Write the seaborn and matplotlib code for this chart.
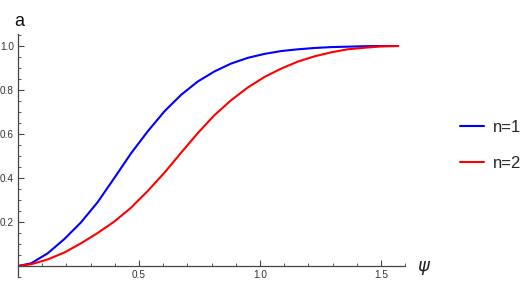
import numpy as np
import pandas as pd
import matplotlib
matplotlib.use("Agg")
import matplotlib.pyplot as plt
import seaborn as sns
from matplotlib.ticker import MultipleLocator, FixedLocator

# values
psi_n1 = [0.0, 0.054, 0.123, 0.191, 0.260, 0.329, 0.398, 0.467, 0.536, 0.605,
          0.674, 0.742, 0.811, 0.880, 0.949, 1.018, 1.087, 1.156, 1.225,
          1.293, 1.362, 1.431, 1.500, 1.571]
y_n1 = [0.0, 0.012, 0.058, 0.122, 0.198, 0.290, 0.400, 0.512, 0.612, 0.703,
        0.778, 0.838, 0.884, 0.920, 0.946, 0.964, 0.977, 0.985, 0.991,
        0.995, 0.997, 0.999, 1.0, 1.0]

psi_n2 = [0.0, 0.054, 0.123, 0.191, 0.260, 0.329, 0.398, 0.467, 0.536, 0.605,
          0.674, 0.742, 0.811, 0.880, 0.949, 1.018, 1.087, 1.156, 1.225,
          1.293, 1.362, 1.431, 1.500, 1.571]
y_n2 = [0.0, 0.008, 0.030, 0.061, 0.103, 0.150, 0.202, 0.265, 0.341, 0.424,
        0.515, 0.603, 0.685, 0.753, 0.811, 0.859, 0.897, 0.929, 0.953,
        0.971, 0.985, 0.992, 0.998, 1.0]

labels = ["n=1", "n=2"]
colors = ["#0000ff", "#ff0000"]

df = pd.concat([
    pd.DataFrame({"psi": psi_n1, "y": y_n1, "n": labels[0]}),
    pd.DataFrame({"psi": psi_n2, "y": y_n2, "n": labels[1]}),
])

sns.set_style("white")
plt.rcParams["font.family"] = ["Liberation Sans", "DejaVu Sans"]

fig = plt.figure(figsize=(5.29, 2.84), dpi=100)
ax = fig.add_axes([0.034, 0.0246, 0.732, 0.856])

sns.lineplot(data=df, x="psi", y="y", hue="n", palette=colors, sort=False,
             estimator=None, linewidth=1.5, ax=ax)

ax.set_xlim(0, 1.6)
ax.set_ylim(-0.05, 1.055)

# Mathematica-style axes through the origin
for side in ["top", "right"]:
    ax.spines[side].set_visible(False)
ax.spines["bottom"].set_position(("data", 0))
ax.spines["left"].set_position(("data", 0))
axis_col = "#444444"
for side in ["bottom", "left"]:
    ax.spines[side].set_color(axis_col)
    ax.spines[side].set_linewidth(0.9)

ax.xaxis.set_major_locator(FixedLocator([0.5, 1.0, 1.5]))
ax.xaxis.set_minor_locator(MultipleLocator(0.1))
ax.yaxis.set_major_locator(FixedLocator([0.2, 0.4, 0.6, 0.8, 1.0]))
ax.yaxis.set_minor_locator(MultipleLocator(0.05))
ax.set_xticklabels(["0.5", "1.0", "1.5"])
ax.set_yticklabels(["0.2", "0.4", "0.6", "0.8", "1.0"])
ax.tick_params(which="both", bottom=True, left=True, color=axis_col)
ax.tick_params(which="major", direction="in", length=4.5, width=0.8,
               labelsize=7.2, labelcolor="#333333", pad=3)
ax.tick_params(which="minor", direction="in", length=2.5, width=0.6)

ax.set_xlabel("")
ax.set_ylabel("")
ax.text(1.65, 0.0, "ψ", fontsize=13, style="italic", ha="left",
        va="center", color="#222222", family=["DejaVu Sans"])
fig.text(0.026, 0.955, "a", fontsize=13, ha="left", va="top", color="#111111")

ax.legend(loc="center left", bbox_to_anchor=(0.853, 0.489),
          bbox_transform=fig.transFigure, frameon=False, fontsize=12,
          handlelength=1.44, handletextpad=0.55, labelspacing=1.25,
          borderpad=0, title=None)

fig.savefig("out.png", dpi=100)
